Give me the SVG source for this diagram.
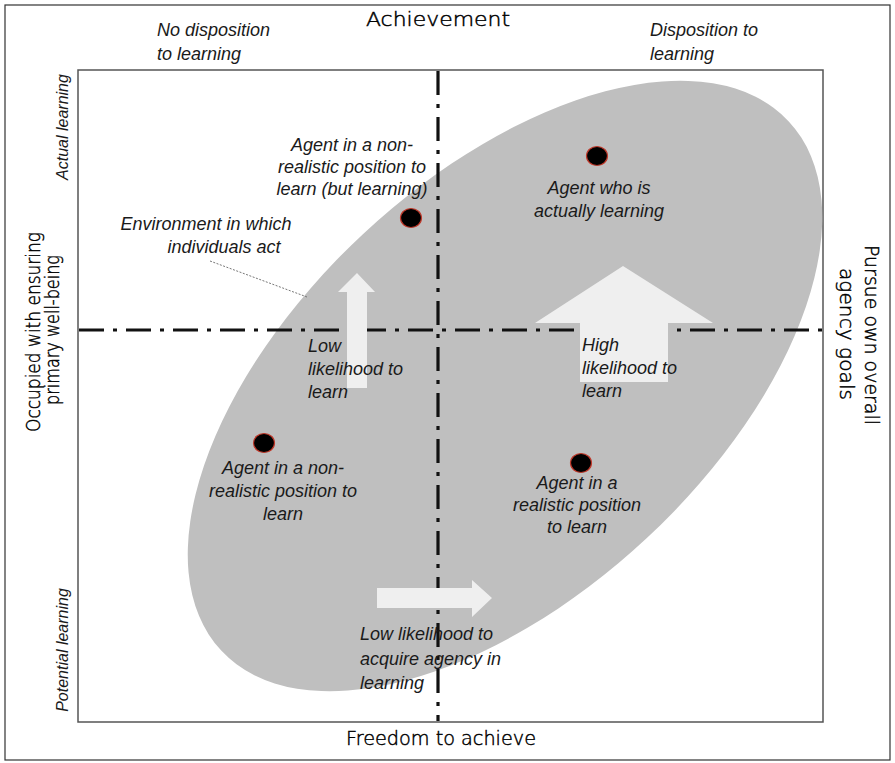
<svg xmlns="http://www.w3.org/2000/svg" width="895" height="763" viewBox="0 0 895 763">
<style>
.ann{font-family:"Liberation Sans",Arial,sans-serif;font-style:italic;font-size:18px;fill:#1a1a1a}
.side{font-family:"Liberation Sans",Arial,sans-serif;font-style:italic;font-size:16px;fill:#1a1a1a}
.axis{font-family:"DejaVu Sans",Verdana,sans-serif;font-weight:200;font-size:19px;fill:#000;stroke:#000;stroke-width:0.45}
.mid{text-anchor:middle}
.dot{fill:#000;stroke:#c0392b;stroke-width:1.2}
.blk{fill:#efefef;stroke:none}
.dd{stroke:#111;stroke-width:3.2;fill:none}
</style>
<rect x="5" y="5" width="885" height="755" fill="#fff" stroke="#333" stroke-width="1.2"/>
<rect x="78" y="70" width="745" height="652" fill="none" stroke="#555" stroke-width="1.5"/>

<g id="environment">
<ellipse cx="505" cy="386" rx="388" ry="208" transform="rotate(-43 505 386)" fill="#bfbfbf"/>
</g>

<g id="connectors">
<line class="dd" x1="438" y1="71" x2="438" y2="721" stroke-dasharray="24 9 4 9"/>
<line class="dd" x1="79" y1="330" x2="822" y2="330" stroke-dasharray="25 9 4 9"/>
<line x1="210" y1="261" x2="307" y2="297" stroke="#777" stroke-width="1" stroke-dasharray="2 1.5"/>
</g>

<g id="arrow-low-up"><polygon class="blk" points="357,273 375,292 367,292 367,388 347,388 347,292 338,292"/></g>
<g id="arrow-high-up"><polygon class="blk" points="623,266 713,323 668,323 668,382 580,382 580,323 535,323"/></g>
<g id="arrow-right"><polygon class="blk" points="377,588 472,588 472,580 492,598 472,617 472,608 377,608"/></g>

<g id="axis-labels">
<text class="axis mid" x="438" y="26" textLength="144" lengthAdjust="spacingAndGlyphs">Achievement</text>
<text class="axis mid" x="441" y="745" textLength="190" lengthAdjust="spacingAndGlyphs">Freedom to achieve</text>
<text class="axis mid" transform="translate(40,332) rotate(-90)" textLength="200" lengthAdjust="spacingAndGlyphs">Occupied with ensuring</text>
<text class="axis mid" transform="translate(59,330) rotate(-90)" textLength="150" lengthAdjust="spacingAndGlyphs">primary well-being</text>
<text class="axis mid" transform="translate(865,335) rotate(90)" textLength="180" lengthAdjust="spacingAndGlyphs">Pursue own overall</text>
<text class="axis mid" transform="translate(840,334) rotate(90)" textLength="132" lengthAdjust="spacingAndGlyphs">agency goals</text>
<text class="ann" x="157" y="36">No disposition</text>
<text class="ann" x="157" y="60">to learning</text>
<text class="ann" x="650" y="36">Disposition to</text>
<text class="ann" x="650" y="60">learning</text>
<text class="side mid" transform="translate(68,127) rotate(-90)">Actual learning</text>
<text class="side mid" transform="translate(68,650) rotate(-90)">Potential learning</text>
</g>

<g id="env-label">
<text class="ann mid" x="206" y="230">Environment in which</text>
<text class="ann mid" x="224" y="253">individuals act</text>
</g>

<g id="agent-nonrealistic-learning">
<ellipse class="dot" cx="411" cy="218" rx="10.5" ry="9.5"/>
<text class="ann mid" x="352" y="151">Agent in a non-</text>
<text class="ann mid" x="352" y="173">realistic position to</text>
<text class="ann mid" x="352" y="195">learn (but learning)</text>
</g>

<g id="agent-actually-learning">
<ellipse class="dot" cx="597" cy="156" rx="10.5" ry="9.5"/>
<text class="ann mid" x="599" y="194">Agent who is</text>
<text class="ann mid" x="599" y="217">actually learning</text>
</g>

<g id="agent-nonrealistic">
<ellipse class="dot" cx="264" cy="443" rx="10.5" ry="9.5"/>
<text class="ann mid" x="283" y="474">Agent in a non-</text>
<text class="ann mid" x="283" y="497">realistic position to</text>
<text class="ann mid" x="283" y="520">learn</text>
</g>

<g id="agent-realistic">
<ellipse class="dot" cx="581" cy="463" rx="10.5" ry="9.5"/>
<text class="ann mid" x="577" y="489">Agent in a</text>
<text class="ann mid" x="577" y="511">realistic position</text>
<text class="ann mid" x="577" y="533">to learn</text>
</g>

<g id="low-likelihood">
<text class="ann" x="308" y="352">Low</text>
<text class="ann" x="308" y="375">likelihood to</text>
<text class="ann" x="308" y="398">learn</text>
</g>

<g id="high-likelihood">
<text class="ann" x="582" y="351">High</text>
<text class="ann" x="582" y="374">likelihood to</text>
<text class="ann" x="582" y="397">learn</text>
</g>

<g id="low-agency">
<text class="ann" x="360" y="640">Low likelihood to</text>
<text class="ann" x="360" y="665">acquire agency in</text>
<text class="ann" x="360" y="689">learning</text>
</g>
</svg>
